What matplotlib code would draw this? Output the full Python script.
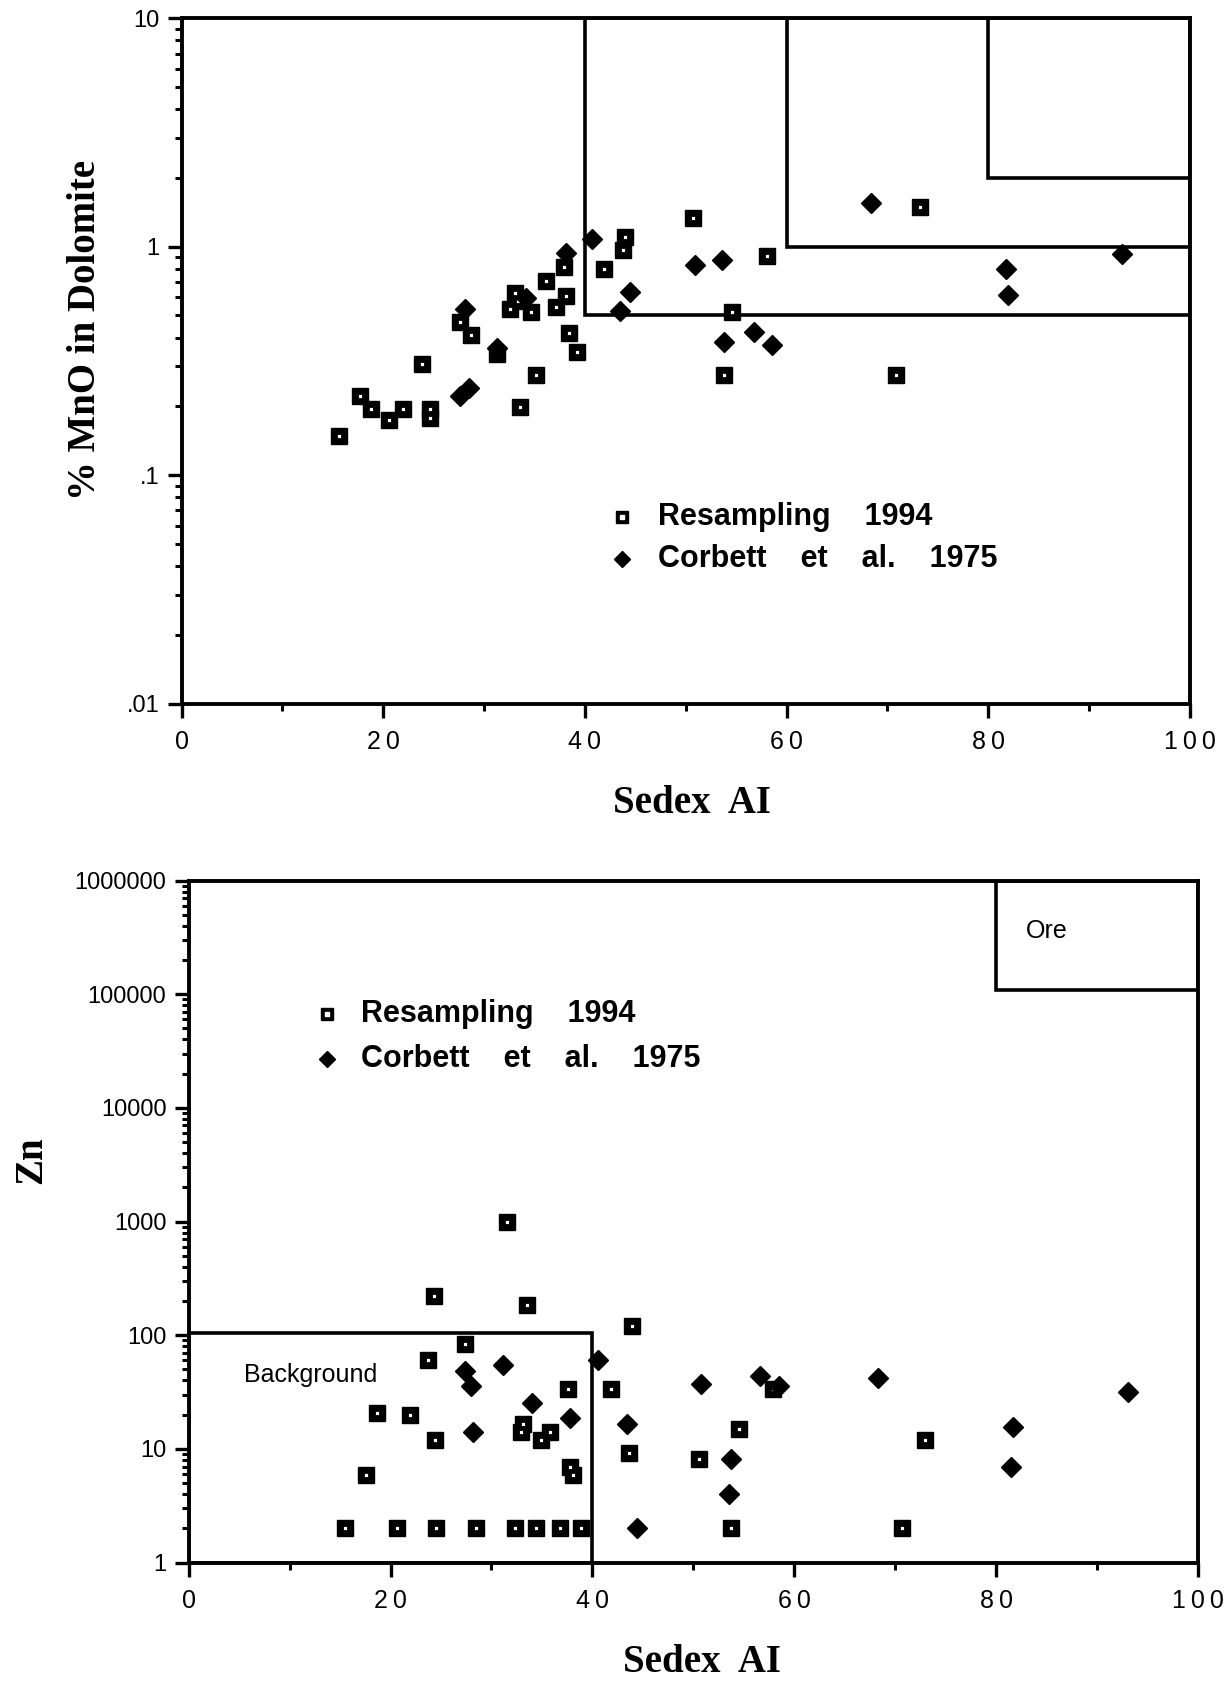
import matplotlib
matplotlib.use("Agg")
import matplotlib.pyplot as plt
from matplotlib.patches import Rectangle
from matplotlib.ticker import FixedLocator, FixedFormatter, LogLocator, NullFormatter, MultipleLocator

# ---------------- data: top panel (MnO in dolomite) ----------------
mno_res_ai = [15.6, 17.7, 18.8, 20.6, 22.0, 23.8, 24.6, 24.6, 27.6, 28.7, 31.3, 32.6, 33.1,
              33.4, 34.7, 33.6, 35.2, 36.1, 37.1, 38.1, 37.9, 38.4, 39.2,
              50.7, 44.0, 43.8, 41.9, 58.1, 54.6, 53.8, 70.8, 73.2]
mno_res_val = [0.148, 0.221, 0.195, 0.175, 0.195, 0.306, 0.195, 0.177, 0.467, 0.409, 0.338, 0.531, 0.627,
               0.577, 0.516, 0.198, 0.274, 0.711, 0.545, 0.606, 0.813, 0.420, 0.347,
               1.33, 1.10, 0.97, 0.80, 0.91, 0.52, 0.275, 0.275, 1.49]
mno_cor_ai = [28.1, 27.6, 28.5, 31.3, 34.2, 38.1, 40.7, 44.5, 43.5, 50.9, 53.6, 56.8, 53.8,
              58.6, 68.4, 81.8, 82.0, 93.3]
mno_cor_val = [0.536, 0.223, 0.240, 0.361, 0.596, 0.935, 1.08, 0.635, 0.525, 0.83, 0.877, 0.425, 0.384,
               0.371, 1.56, 0.80, 0.615, 0.93]
# fields (x0, x1, y0, y1)
mno_boxes = [(40, 100, 0.5, 10), (60, 100, 1.0, 10), (80, 100, 2.0, 10)]

# ---------------- data: bottom panel (Zn) ----------------
zn_res_ai = [31.5, 24.3, 33.5, 43.9, 27.4, 23.7, 37.6, 41.8, 18.7, 21.9, 24.4, 33.1, 32.9, 35.8,
             34.9, 43.6, 37.8, 38.1, 17.6, 54.5, 50.6, 57.9, 73.0,
             15.5, 20.6, 24.5, 28.5, 32.3, 34.4, 36.8, 38.9, 53.7, 70.7]
zn_res_val = [1000, 220, 186, 121, 84, 61, 33.6, 33.6, 20.6, 19.7, 12.0, 16.6, 14.2, 14.2,
              12.0, 9.2, 7.0, 5.9, 5.9, 14.9, 8.15, 33.4, 12.0,
              2, 2, 2, 2, 2, 2, 2, 2, 2, 2]
zn_cor_ai = [27.4, 28.0, 31.1, 28.2, 34.0, 37.8, 40.6, 43.4, 44.4, 50.8, 56.6, 58.5, 68.3,
             93.1, 53.7, 53.5, 81.7, 81.5]
zn_cor_val = [48.7, 35.8, 54.6, 14.2, 25.5, 18.6, 61, 16.6, 2.0, 37.2, 44, 35.7, 41.8,
              31.8, 8.1, 4.0, 15.7, 6.9]
zn_boxes = [(0, 40, 1, 104), (80, 100, 1.08e5, 1e6)]
zn_box_labels = ["Background", "Ore"]

legend_labels = ["Resampling    1994", "Corbett    et    al.    1975"]
x_ticks = [0, 20, 40, 60, 80, 100]
x_ticklabels = ["0", "2\u20090", "4\u20090", "6\u20090", "8\u20090", "1\u20090\u20090"]
mno_yticks = [0.01, 0.1, 1, 10]
mno_ylabels = [".01", ".1", "1", "10"]
zn_yticks = [1, 10, 100, 1000, 10000, 100000, 1000000]
zn_ylabels = ["1", "10", "100", "1000", "10000", "100000", "1000000"]

# ---------------- figure ----------------
plt.rcParams['font.family'] = ['Liberation Sans', 'DejaVu Sans']
fig = plt.figure(figsize=(12.29, 16.82), dpi=100)
W, H = 1229, 1682

def axes_px(l, t, r, b):
    return fig.add_axes([l / W, 1 - b / H, (r - l) / W, (b - t) / H])

ax1 = axes_px(181.5, 18.3, 1190, 703.5)
ax2 = axes_px(188.7, 880.5, 1198, 1562.6)

serif = dict(family=['Liberation Serif', 'DejaVu Serif'], weight='bold')

def sq(ax, x, y):
    ax.plot(x, y, ls='none', marker='s', ms=11.5, mfc='black', mec='black', zorder=4)
    ax.plot(x, y, ls='none', marker='s', ms=3.0, mfc='white', mec='black', mew=0.6, zorder=5)

def dm(ax, x, y):
    ax.plot(x, y, ls='none', marker='D', ms=10.5, mfc='black', mec='black', zorder=6)

def style(ax, yticks, ylabels, ylim):
    ax.set_yscale('log')
    ax.set_xlim(0, 100)
    ax.set_ylim(*ylim)
    ax.xaxis.set_major_locator(FixedLocator(x_ticks))
    ax.xaxis.set_major_formatter(FixedFormatter(x_ticklabels))
    ax.xaxis.set_minor_locator(MultipleLocator(10))
    ax.yaxis.set_major_locator(FixedLocator(yticks))
    ax.yaxis.set_major_formatter(FixedFormatter(ylabels))
    ax.yaxis.set_minor_locator(LogLocator(base=10, subs=range(2, 10)))
    ax.yaxis.set_minor_formatter(NullFormatter())
    ax.tick_params(which='major', direction='out', length=10, width=2.4, labelsize=17, pad=6)
    ax.tick_params(which='minor', direction='out', length=5, width=2.2)
    ax.tick_params(axis='x', which='major', pad=9, labelsize=18)
    for s in ax.spines.values():
        s.set_linewidth(2.8)

# ---------- top panel ----------
style(ax1, mno_yticks, mno_ylabels, (0.01, 10))
for x0, x1, y0, y1 in mno_boxes:
    ax1.add_patch(Rectangle((x0, y0), x1 - x0, y1 - y0, fill=False, lw=2.6, ec='black', zorder=3))
sq(ax1, mno_res_ai, mno_res_val)
dm(ax1, mno_cor_ai, mno_cor_val)
# legend
for i, lab in enumerate(legend_labels):
    yy = 0.272 - i * 0.061
    if i == 0:
        ax1.plot([0.437], [yy], transform=ax1.transAxes, marker='s', ms=9, mfc='black', mec='black', ls='none')
        ax1.plot([0.437], [yy], transform=ax1.transAxes, marker='s', ms=2.5, mfc='white', mec='white', ls='none')
    else:
        ax1.plot([0.437], [yy], transform=ax1.transAxes, marker='D', ms=8.5, mfc='black', mec='black', ls='none')
    ax1.text(0.472, yy, lab, transform=ax1.transAxes, fontsize=22, fontweight='bold', va='center', ha='left')
ax1.set_xlabel("Sedex  AI", fontsize=28, **serif)
ax1.xaxis.set_label_coords(0.506, -0.119)
ax1.set_ylabel("% MnO in Dolomite", fontsize=28, **serif)
ax1.yaxis.set_label_coords(-0.077, 0.545)

# ---------- bottom panel ----------
style(ax2, zn_yticks, zn_ylabels, (1, 1e6))
for (x0, x1, y0, y1) in zn_boxes:
    ax2.add_patch(Rectangle((x0, y0), x1 - x0, y1 - y0, fill=False, lw=2.6, ec='black', zorder=3))
ax2.text(5.5, 45, zn_box_labels[0], fontsize=18, ha='left', va='center')
ax2.text(85, 3.6e5, zn_box_labels[1], fontsize=18, ha='center', va='center')
sq(ax2, zn_res_ai, zn_res_val)
dm(ax2, zn_cor_ai, zn_cor_val)
for i, lab in enumerate(legend_labels):
    yy = 0.805 - i * 0.066
    if i == 0:
        ax2.plot([0.137], [yy], transform=ax2.transAxes, marker='s', ms=9, mfc='black', mec='black', ls='none')
        ax2.plot([0.137], [yy], transform=ax2.transAxes, marker='s', ms=2.5, mfc='white', mec='white', ls='none')
    else:
        ax2.plot([0.137], [yy], transform=ax2.transAxes, marker='D', ms=8.5, mfc='black', mec='black', ls='none')
    ax2.text(0.171, yy, lab, transform=ax2.transAxes, fontsize=22, fontweight='bold', va='center', ha='left')
ax2.set_xlabel("Sedex  AI", fontsize=28, **serif)
ax2.xaxis.set_label_coords(0.509, -0.119)
ax2.set_ylabel("Zn", fontsize=28, **serif)
ax2.yaxis.set_label_coords(-0.137, 0.590)

fig.savefig("out.png", dpi=100, facecolor='white')
